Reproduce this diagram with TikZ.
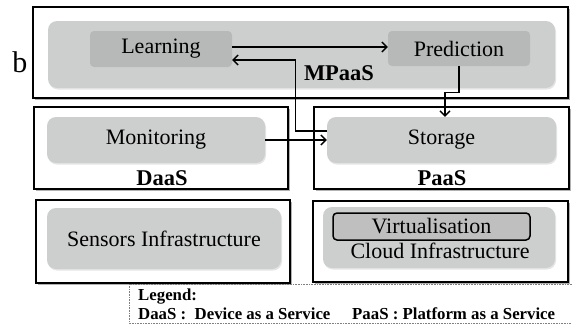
\documentclass[tikz,border=0pt]{standalone}
\usepackage{fontspec}
\setmainfont{Liberation Serif}
\usetikzlibrary{arrows.meta}
\usetikzlibrary{shadows}

\definecolor{bandgrey}{RGB}{205,207,206}
\definecolor{blockgrey}{RGB}{182,185,184}
\definecolor{virtgrey}{RGB}{190,191,190}

\begin{document}
\begin{tikzpicture}[x=1pt, y=-1pt,
        every node/.style={font=\fontsize{22}{25}\selectfont, inner sep=0pt},
        layer/.style={draw=black, line width=2.2pt, fill=white,
            drop shadow={shadow xshift=1.5pt, shadow yshift=-2pt, fill=black!60}},
        band/.style={fill=bandgrey, rounded corners=9pt,
            drop shadow={shadow xshift=1pt, shadow yshift=-1.5pt, fill=black!20}},
        block/.style={fill=blockgrey, rounded corners=4pt},
        tag/.style={font=\fontsize{22.5}{25}\selectfont\bfseries},
        legend/.style={anchor=west, font=\fontsize{16.8}{18}\selectfont\bfseries},
        link/.style={line width=1.3pt, -{Straight Barb[length=5pt, width=10pt]}}]
        \useasboundingbox (0,0) rectangle (572,324);

        \node[font=\fontsize{30}{32}\selectfont] (b) at (20,62) {b};

        \node[layer, minimum width=535pt, minimum height=91pt] (mpaasBox) at (300.5,52.5) {};
        \node[band, minimum width=507pt, minimum height=67pt] (mpaasBand) at (301.5,54.5) {};
        \node[block, minimum width=142pt, minimum height=36pt] (learning) at (161,49) {Learning};
        \node[block, minimum width=142pt, minimum height=35pt] (prediction) at (459,48.5) {Prediction};
        \node[tag] (mpaas) at (339,73) {MPaaS};

        \node[layer, minimum width=254pt, minimum height=82pt] (daasBox) at (161,148) {};
        \node[band, minimum width=218pt, minimum height=46pt] (monitoring) at (156,140) {Monitoring};
        \node[tag] (daas) at (162,178) {DaaS};

        \node[layer, minimum width=255pt, minimum height=82pt] (paasBox) at (441.5,148) {};
        \node[band, minimum width=229pt, minimum height=46pt] (storage) at (441.5,140) {Storage};
        \node[tag] (paas) at (442,178) {PaaS};

        \node[layer, minimum width=254pt, minimum height=83pt] (sensorBox) at (163,241.5) {};
        \node[band, minimum width=234pt, minimum height=61pt] (sensors) at (164,238.5) {Sensors Infrastructure};

        \node[layer, minimum width=255pt, minimum height=81pt] (cloudBox) at (440.5,241.5) {};
        \node[band, minimum width=232pt, minimum height=61pt] (cloudBand) at (439,237.5) {};
        \node[draw, line width=1.5pt, fill=virtgrey, rounded corners=4pt,
            minimum width=197pt, minimum height=27pt] (virtual) at (431.5,226.5) {Virtualisation};
        \node (cloud) at (440,251) {Cloud Infrastructure};

        \draw[densely dotted, gray, line width=0.6pt] (572,284) -- (129,284) -- (129,323) -- (572,323);
        \node[legend] (legendTitle) at (138,297) {Legend:};
        \node[legend] (daasKey) at (138,314) {DaaS :\ \ Device as a Service};
        \node[legend] (paasKey) at (352,314) {PaaS : Platform as a Service};

        \draw[link] ([yshift=2pt]learning.east) -- ([yshift=2pt]learning.east -| prediction.west);
        \draw[link] ([yshift=9pt]storage.west) -- ++(-31,0) |- ([yshift=-11pt]learning.east);
        \draw[link] (prediction.south) -- ++(0,26) -| ([xshift=3.5pt]storage.north);
        \draw[link] (monitoring.east) -- (storage.west);
    \end{tikzpicture}
\end{document}
